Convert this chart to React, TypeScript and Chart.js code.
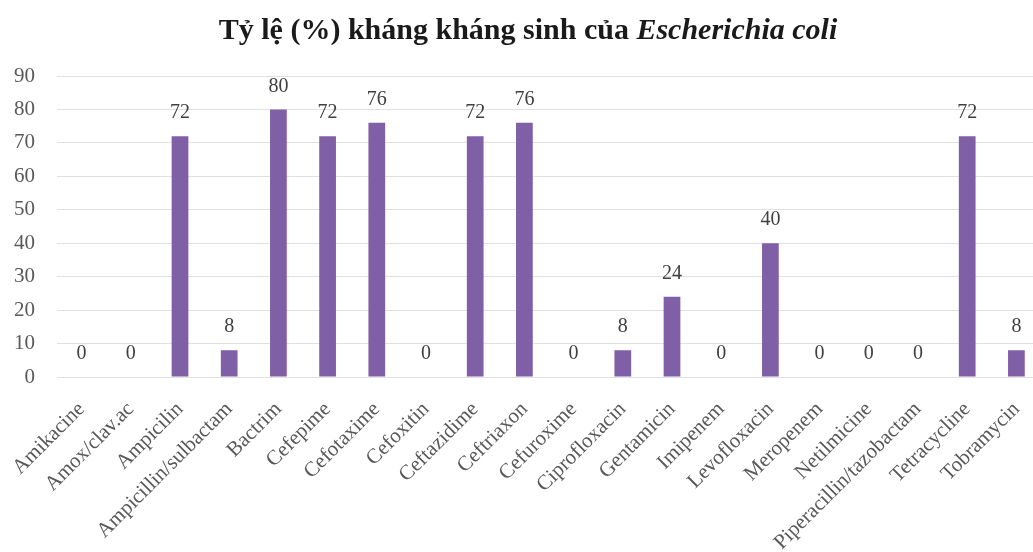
import React, { useEffect, useRef } from "react";
import { Chart, registerables } from "chart.js";

Chart.register(...registerables);

const categories = [
  "Amikacine",
  "Amox/clav.ac",
  "Ampicilin",
  "Ampicillin/sulbactam",
  "Bactrim",
  "Cefepime",
  "Cefotaxime",
  "Cefoxitin",
  "Ceftazidime",
  "Ceftriaxon",
  "Cefuroxime",
  "Ciprofloxacin",
  "Gentamicin",
  "Imipenem",
  "Levofloxacin",
  "Meropenem",
  "Netilmicine",
  "Piperacillin/tazobactam",
  "Tetracycline",
  "Tobramycin",
];

const resistance = [0, 0, 72, 8, 80, 72, 76, 0, 72, 76, 0, 8, 24, 0, 40, 0, 0, 0, 72, 8];

const titleMain = "Tỷ lệ (%) kháng kháng sinh của ";
const titleItalic = "Escherichia coli";

const yMin = 0;
const yMax = 90;
const yStep = 10;

const SERIF = "'Liberation Serif', 'Times New Roman', serif";

const titlePlugin = {
  id: "mixedTitle",
  afterDraw(chart: any) {
    const ctx = chart.ctx;
    ctx.save();
    ctx.fillStyle = "#1a1a1a";
    ctx.textBaseline = "alphabetic";
    ctx.textAlign = "left";
    const f1 = `bold 30px ${SERIF}`;
    const f2 = `italic bold 30px ${SERIF}`;
    ctx.font = f1;
    const w1 = ctx.measureText(titleMain).width;
    ctx.font = f2;
    const w2 = ctx.measureText(titleItalic).width;
    const cx = 528;
    const x0 = cx - (w1 + w2) / 2;
    const y = 39;
    ctx.font = f1;
    ctx.fillText(titleMain, x0, y);
    ctx.font = f2;
    ctx.fillText(titleItalic, x0 + w1, y);
    ctx.restore();
  },
};

const valueLabelPlugin = {
  id: "valueLabels",
  afterDatasetsDraw(chart: any) {
    const ctx = chart.ctx;
    const meta = chart.getDatasetMeta(0);
    const data = chart.data.datasets[0].data as number[];
    ctx.save();
    ctx.fillStyle = "#404040";
    ctx.font = `20px ${SERIF}`;
    ctx.textAlign = "center";
    ctx.textBaseline = "middle";
    meta.data.forEach((bar: any, i: number) => {
      ctx.fillText(String(data[i]), bar.x, bar.y - 23);
    });
    ctx.restore();
  },
};

export default function App() {
  const ref = useRef<HTMLCanvasElement | null>(null);

  useEffect(() => {
    if (!ref.current) return;
    const chart = new Chart(ref.current, {
      type: "bar",
      data: {
        labels: categories,
        datasets: [
          {
            data: resistance,
            backgroundColor: "#7f5fa6",
            borderWidth: 0,
            barPercentage: 0.34,
            categoryPercentage: 1,
          },
        ],
      },
      options: {
        responsive: false,
        animation: false,
        layout: { padding: { top: 76, right: 20, left: 0, bottom: 0 } },
        plugins: {
          legend: { display: false },
          tooltip: { enabled: false },
          title: { display: false },
        },
        scales: {
          x: {
            grid: { display: false, drawTicks: false },
            border: { display: false },
            ticks: {
              autoSkip: false,
              maxRotation: 45,
              minRotation: 45,
              padding: 20,
              color: "#595959",
              font: { family: SERIF, size: 21 },
            },
            afterFit(scale: any) {
              scale.height = 175;
              scale.paddingLeft = 0;
              scale.paddingRight = 0;
            },
          },
          y: {
            min: yMin,
            max: yMax,
            grid: { color: "#e0e0e0", lineWidth: 1, drawTicks: false },
            border: { display: false },
            ticks: {
              stepSize: yStep,
              padding: 22,
              color: "#595959",
              font: { family: SERIF, size: 21 },
            },
            afterFit(scale: any) {
              scale.width = 57;
            },
          },
        },
      },
      plugins: [titlePlugin, valueLabelPlugin],
    });
    return () => chart.destroy();
  }, []);

  return (
    <div
      style={{
        position: "fixed",
        left: 0,
        top: 0,
        width: 1033,
        height: 552,
        overflow: "hidden",
        background: "#ffffff",
      }}
    >
      <canvas ref={ref} width={1061} height={552} style={{ display: "block", width: 1061, height: 552 }} />
    </div>
  );
}
